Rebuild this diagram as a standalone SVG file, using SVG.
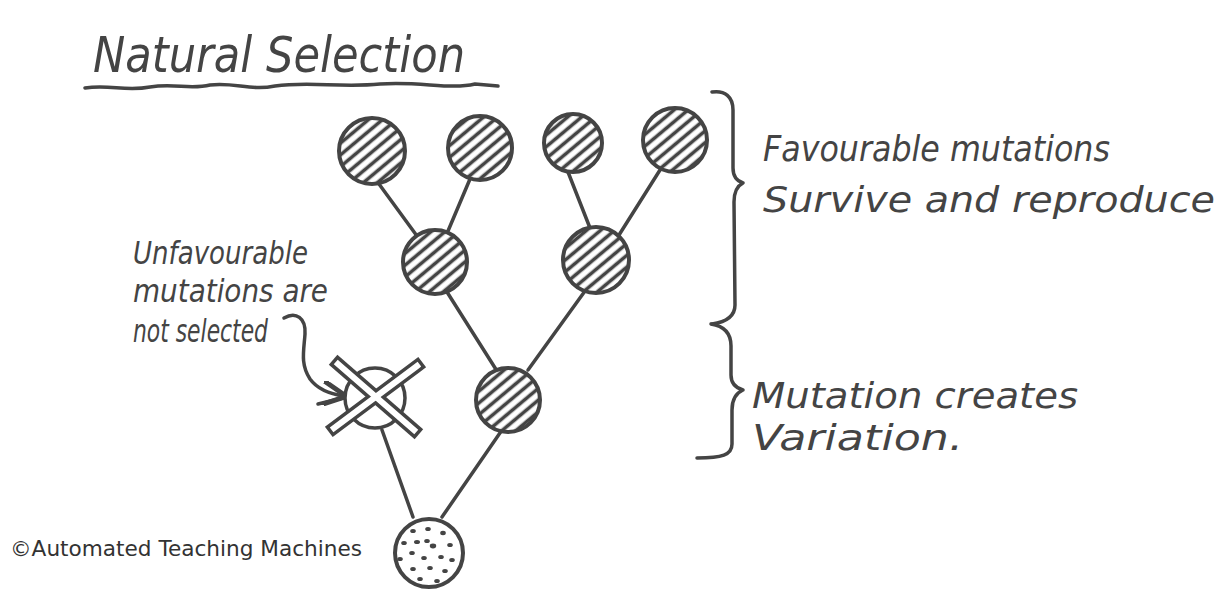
<svg xmlns="http://www.w3.org/2000/svg" width="1230" height="592" viewBox="0 0 1230 592">
<style>
.ink{fill:none;stroke:#444;stroke-width:3.5;stroke-linecap:round;stroke-linejoin:round}
.node{fill:url(#hatch);stroke:#444;stroke-width:4}
.hand{font-family:"DejaVu Sans Condensed","DejaVu Sans","Liberation Sans",sans-serif;font-style:oblique;fill:#444}
.label{font-size:32px}
.big{font-size:36px}
.dot{fill:#444}
</style>
<defs>
<pattern id="hatch" width="9" height="9" patternUnits="userSpaceOnUse" patternTransform="rotate(-40)">
<rect width="9" height="9" fill="#fff"/>
<line x1="0" y1="4.5" x2="9" y2="4.5" stroke="#444" stroke-width="3.6"/>
</pattern>
<marker id="ah" viewBox="0 0 10 10" refX="9" refY="5" markerWidth="7" markerHeight="7" orient="auto">
<path d="M0,0 L10,5 L0,10" fill="none" stroke="#444" stroke-width="2"/>
</marker>
</defs>
<rect width="1230" height="592" fill="#fff"/>

<g id="title">
<text class="hand" x="93" y="72" font-size="50" textLength="372" lengthAdjust="spacingAndGlyphs">Natural Selection</text>
<path class="ink" d="M85,88 C110,84 125,92 150,87 C175,83 190,90 210,85 C235,82 250,91 275,86 C310,81 340,88 380,84 C420,81 450,90 475,84 L498,86" stroke-width="2.8"/>
</g>

<g id="connectors">
<line class="ink" x1="379" y1="184" x2="417" y2="236"/>
<line class="ink" x1="470" y1="179" x2="448" y2="231"/>
<line class="ink" x1="568" y1="172" x2="590" y2="228"/>
<line class="ink" x1="660" y1="170" x2="619" y2="235"/>
<line class="ink" x1="447" y1="292" x2="497" y2="371"/>
<line class="ink" x1="585" y1="291" x2="528" y2="370"/>
<line class="ink" x1="413" y1="517" x2="382" y2="430"/>
<line class="ink" x1="442" y1="517" x2="502" y2="430"/>
</g>

<g id="node-top1"><circle class="node" cx="372" cy="151" r="33"/></g>
<g id="node-top2"><circle class="node" cx="480" cy="148" r="32"/></g>
<g id="node-top3"><circle class="node" cx="573" cy="143" r="29"/></g>
<g id="node-top4"><circle class="node" cx="675" cy="140" r="32"/></g>
<g id="node-mid-left"><circle class="node" cx="435" cy="262" r="32"/></g>
<g id="node-mid-right"><circle class="node" cx="596" cy="260" r="33"/></g>
<g id="node-branch"><circle class="node" cx="508" cy="400" r="32"/></g>

<g id="node-crossed">
<circle cx="375" cy="398" r="30" fill="#fff" stroke="#444" stroke-width="3.5"/>
<line x1="338" y1="364" x2="414" y2="430" stroke="#444" stroke-width="13" stroke-linecap="square"/>
<line x1="417" y1="366" x2="334" y2="428" stroke="#444" stroke-width="13" stroke-linecap="square"/>
<line x1="338" y1="364" x2="414" y2="430" stroke="#fff" stroke-width="6" stroke-linecap="square"/>
<line x1="417" y1="366" x2="334" y2="428" stroke="#fff" stroke-width="6" stroke-linecap="square"/>
</g>

<g id="node-root">
<circle cx="429" cy="553" r="34" fill="#fff" stroke="#444" stroke-width="4"/>
<g class="dot">
<ellipse cx="413" cy="531" rx="2.8" ry="2"/><ellipse cx="428" cy="529" rx="2.8" ry="2"/><ellipse cx="443" cy="533" rx="2.8" ry="2.2"/>
<ellipse cx="404" cy="543" rx="2.8" ry="2"/><ellipse cx="417" cy="542" rx="3" ry="2"/><ellipse cx="427" cy="541" rx="2.8" ry="2"/>
<ellipse cx="433" cy="546" rx="3.2" ry="2.4"/><ellipse cx="450" cy="545" rx="2.8" ry="2"/><ellipse cx="412" cy="553" rx="2.8" ry="2"/>
<ellipse cx="400" cy="559" rx="2.8" ry="2"/><ellipse cx="424" cy="558" rx="2.8" ry="2"/><ellipse cx="441" cy="557" rx="2.8" ry="2"/>
<ellipse cx="452" cy="560" rx="2.8" ry="2"/><ellipse cx="413" cy="569" rx="2.8" ry="2"/><ellipse cx="430" cy="568" rx="2.8" ry="2"/>
<ellipse cx="445" cy="571" rx="2.8" ry="2"/><ellipse cx="420" cy="579" rx="2.8" ry="2"/><ellipse cx="437" cy="581" rx="2.8" ry="2"/>
</g>
</g>

<g id="label-unfavourable">
<text class="hand label" x="133" y="264" textLength="175" lengthAdjust="spacingAndGlyphs">Unfavourable</text>
<text class="hand label" x="133" y="302" textLength="195" lengthAdjust="spacingAndGlyphs">mutations are</text>
<text class="hand label" x="133" y="342" textLength="135" lengthAdjust="spacingAndGlyphs">not selected</text>
<path class="ink" d="M284,318 C296,311 306,318 305,334 C304,350 300,364 310,379 C318,390 330,394 344,396" marker-end="url(#ah)" stroke-width="3"/>
<line class="ink" x1="318" y1="404" x2="343" y2="398" stroke-width="3"/>
</g>

<g id="brace-favourable">
<path class="ink" d="M712,92 C725,90 733,97 733,110 L733,168 C733,177 737,181 743,183 C737,186 734,192 734,202 L735,305 C735,317 726,322 712,324"/>
<text class="hand big" x="763" y="161" textLength="347" lengthAdjust="spacingAndGlyphs">Favourable mutations</text>
<text class="hand big" x="763" y="212" textLength="452" lengthAdjust="spacingAndGlyphs">Survive and reproduce</text>
</g>

<g id="brace-mutation">
<path class="ink" d="M711,324 C724,326 731,333 731,346 L731,375 C731,384 736,388 743,390 C736,393 732,399 732,410 L732,444 C732,455 722,458 697,458"/>
<text class="hand big" x="752" y="408" textLength="326" lengthAdjust="spacingAndGlyphs">Mutation creates</text>
<text class="hand big" x="752" y="450" textLength="211" lengthAdjust="spacingAndGlyphs">Variation.</text>
</g>

<g id="copyright">
<text x="10" y="556" font-family="'DejaVu Sans',sans-serif" font-size="22" fill="#333" textLength="352" lengthAdjust="spacingAndGlyphs">©Automated Teaching Machines</text>
</g>
</svg>
